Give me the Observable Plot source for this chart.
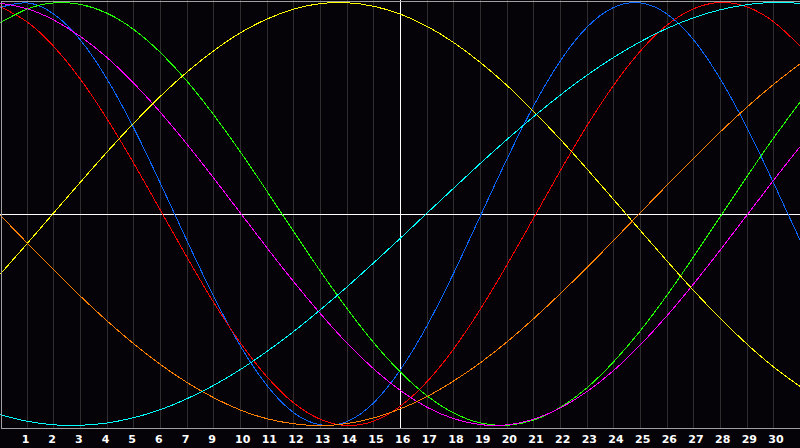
<!DOCTYPE html>
<html><head><meta charset="utf-8">
<script src="https://cdn.jsdelivr.net/npm/d3@7"></script>
<script src="https://cdn.jsdelivr.net/npm/@observablehq/plot@0.6"></script>
<style>html,body{margin:0;padding:0;background:#050308;overflow:hidden}</style>
</head><body><div id="chart"></div>
<script>
// Day positions (x) for every sample
const days = [0,1,2,3,4,5,6,7,8,9,10,11,12,13,14,15,16,17,18,19,20,21,22,23,24,25,26,27,28,29,30];
// Grid positions and their labels (label 8 is absent in the original)
const gridDays = [1,2,3,4,5,6,7,8,9,10,11,12,13,14,15,16,17,18,19,20,21,22,23,24,25,26,27,28,29];
const tickLabels = ["1","2","3","4","5","6","7","9","10","11","12","13","14","15","16","17","18","19","20","21","22","23","24","25","26","27","28","29","30"];
const todayDay = 15;

// Series values read per day (-1 .. 1)
const blue = [0.977,0.998,0.945,0.822,0.637,0.406,0.144,-0.128,-0.391,-0.625,-0.812,-0.940,-0.997,-0.981,-0.892,-0.736,-0.527,-0.278,-0.008,0.262,0.513,0.725,0.884,0.977,0.998,0.945,0.822,0.637,0.406,0.144,-0.128];
const red = [0.979,0.908,0.792,0.637,0.449,0.239,0.017,-0.206,-0.419,-0.610,-0.771,-0.894,-0.971,-1.000,-0.979,-0.908,-0.792,-0.637,-0.449,-0.239,-0.017,0.206,0.419,0.610,0.771,0.894,0.971,1.000,0.979,0.908,0.792];
const green = [0.905,0.969,0.998,0.991,0.949,0.872,0.763,0.627,0.468,0.293,0.106,-0.084,-0.271,-0.448,-0.609,-0.748,-0.860,-0.941,-0.988,-0.999,-0.974,-0.914,-0.821,-0.698,-0.551,-0.383,-0.200,-0.011,0.178,0.361,0.531];
const magenta = [0.997,0.970,0.917,0.839,0.739,0.618,0.480,0.329,0.169,0.004,-0.161,-0.321,-0.472,-0.611,-0.733,-0.835,-0.914,-0.968,-0.996,-0.997,-0.970,-0.917,-0.839,-0.739,-0.618,-0.480,-0.329,-0.169,-0.004,0.161,0.321];
const yellow = [-0.283,-0.140,0.006,0.151,0.294,0.430,0.557,0.672,0.772,0.857,0.922,0.969,0.995,0.999,0.982,0.945,0.887,0.810,0.716,0.607,0.484,0.352,0.212,0.067,-0.079,-0.223,-0.363,-0.495,-0.616,-0.724,-0.817];
const orange = [-0.007,-0.137,-0.265,-0.389,-0.506,-0.614,-0.712,-0.797,-0.869,-0.927,-0.968,-0.992,-1.000,-0.991,-0.964,-0.921,-0.863,-0.789,-0.703,-0.604,-0.494,-0.376,-0.252,-0.124,0.007,0.137,0.265,0.389,0.506,0.614,0.712];
const cyan = [-0.949,-0.980,-0.997,-0.999,-0.988,-0.963,-0.925,-0.873,-0.810,-0.735,-0.649,-0.555,-0.452,-0.344,-0.230,-0.114,0.005,0.123,0.240,0.353,0.461,0.563,0.657,0.741,0.815,0.878,0.928,0.966,0.990,1.000,0.996];

const seriesNames = ["23","28","33","38","43","48","53"];
const seriesColors = ["#0a66ff","#ff0000","#22ff00","#ff00ff","#ffff00","#ff8000","#00ffff"];
const seriesValues = [blue, red, green, magenta, yellow, orange, cyan];

const rows = [];
seriesValues.forEach((vals, k) => vals.forEach((v, i) => rows.push({day: days[i], value: v, series: seriesNames[k]})));

const chart = Plot.plot({
  width: 800, height: 448,
  marginTop: 0, marginRight: 0, marginBottom: 20, marginLeft: 0,
  style: {background: "#050308", color: "#ffffff", fontFamily: "'DejaVu Sans', sans-serif", fontSize: "11px"},
  x: {domain: [0, 30], range: [0, 800], axis: null},
  y: {domain: [-1, 1], range: [425, 2], axis: null},
  color: {domain: seriesNames, range: seriesColors},
  marks: [
    Plot.ruleX(gridDays, {stroke: "#2e2e2e", strokeWidth: 1, shapeRendering: "crispEdges"}),
    Plot.ruleY([0], {stroke: "#ffffff", strokeWidth: 1, shapeRendering: "crispEdges"}),
    Plot.ruleX([todayDay], {stroke: "#ffffff", strokeWidth: 1, shapeRendering: "crispEdges"}),
    Plot.line(rows, {x: "day", y: "value", z: "series", stroke: "series", curve: "natural", strokeWidth: 1, shapeRendering: "crispEdges"}),
    Plot.frame({stroke: "#a0a0a0", inset: 0.5, shapeRendering: "crispEdges"}),
    Plot.axisX(gridDays, {
      tickSize: 0, tickPadding: 7, textAnchor: "start", dx: -5.5,
      tickFormat: d => tickLabels[gridDays.indexOf(d)],
      fill: "#ffffff", fontWeight: "bold", label: null
    })
  ]
});
document.getElementById("chart").appendChild(chart);
</script>
</body></html>
